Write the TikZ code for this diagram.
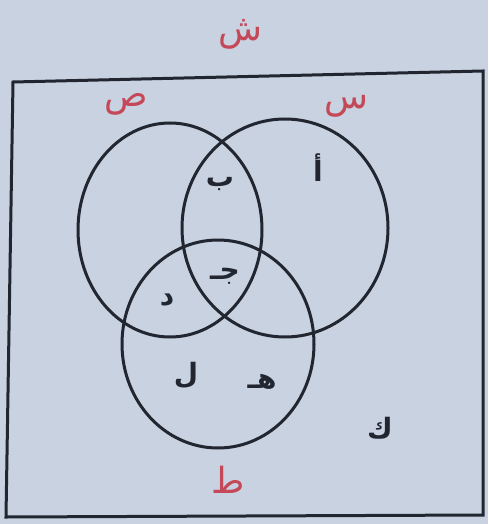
\documentclass[tikz,border=0pt]{standalone}
\usepackage{fontspec}
\newfontfamily\arabicfont[Script=Arabic]{DejaVu Sans}
\TeXXeTstate=1
\definecolor{paper}{RGB}{200,210,224}
\definecolor{ink}{RGB}{34,38,48}
\definecolor{redink}{RGB}{196,72,88}

\begin{document}
\begin{tikzpicture}[x=1pt, y=-1pt,
    setline/.style={line width=3pt, draw=ink},
    elem/.style={text=ink, font=\arabicfont\bfseries\fontsize{28}{28}\selectfont},
    setname/.style={text=redink, font=\arabicfont\fontsize{36}{36}\selectfont}]
        % --- 1. Page and frame ---
        \fill[paper] (0,0) rectangle (488,524);
        \useasboundingbox (0,0) rectangle (488,524);
        \draw[setline] (13,82) -- (483,71) -- (483,515) -- (6,517) -- cycle;

        % --- 2. Sets ---
        \draw[setline] (170,230) ellipse (92 and 107);  % left
        \draw[setline] (285,228) ellipse (103 and 109); % right
        \draw[setline] (218,344) ellipse (96 and 104);  % bottom

        % --- 3. Set names ---
        \node[setname] (U) at (240,34) {\beginR ش\endR};
        \node[setname] (SetL) at (126,104) {\beginR ص\endR};
        \node[setname] (SetR) at (346,106) {\beginR س\endR};
        \node[setname] (SetB) at (228,480) {\beginR ط\endR};

        % --- 4. Elements ---
        \node[elem] (b) at (220,184) {\beginR ب\endR};
        \node[elem] (a) at (318,168) {\beginR أ\endR};
        \node[elem] (j) at (225,276) {\beginR جـ\endR};
        \node[elem] (d) at (167,300) {\beginR د\endR};
        \node[elem] (l) at (186,375) {\beginR ل\endR};
        \node[elem] (h) at (262,382) {\beginR هـ\endR};
        \node[elem] (k) at (380,428) {\beginR ك\endR};
    \end{tikzpicture}
\end{document}
